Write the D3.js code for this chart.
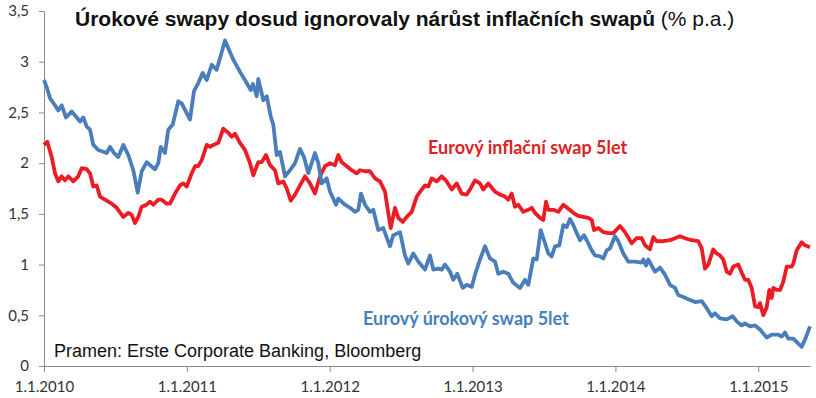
<!DOCTYPE html>
<html>
<head>
<meta charset="utf-8">
<script src="https://cdn.jsdelivr.net/npm/d3@7"></script>
<style>
  body { margin: 0; background: #fff; }
  svg { display: block; }
</style>
</head>
<body>
<div id="chart"></div>
<script>
// t = years since 1.1.2010, v = % p.a.
const inflacni = [
  [0.000, 2.18], [0.023, 2.21], [0.054, 2.06], [0.077, 1.90], [0.100, 1.82], [0.124, 1.87],
  [0.147, 1.83], [0.170, 1.87], [0.205, 1.82], [0.240, 1.87], [0.264, 1.95], [0.299, 1.94],
  [0.322, 1.90], [0.345, 1.77], [0.369, 1.78], [0.392, 1.67], [0.427, 1.64], [0.474, 1.60],
  [0.509, 1.56], [0.555, 1.47], [0.590, 1.51], [0.614, 1.49], [0.637, 1.41], [0.660, 1.47],
  [0.684, 1.57], [0.719, 1.59], [0.742, 1.62], [0.765, 1.59], [0.800, 1.64], [0.824, 1.64],
  [0.859, 1.60], [0.882, 1.60], [0.917, 1.70], [0.952, 1.78], [0.975, 1.80], [0.999, 1.77],
  [1.034, 1.90], [1.057, 1.97], [1.080, 1.97], [1.104, 2.03], [1.139, 2.18], [1.162, 2.16],
  [1.185, 2.18], [1.220, 2.20], [1.255, 2.34], [1.290, 2.30], [1.314, 2.26], [1.337, 2.29],
  [1.372, 2.20], [1.407, 2.13], [1.442, 2.00], [1.465, 1.88], [1.500, 2.01], [1.524, 2.01],
  [1.554, 2.08], [1.582, 1.98], [1.617, 1.93], [1.640, 1.80], [1.675, 1.82], [1.699, 1.75],
  [1.727, 1.63], [1.757, 1.69], [1.792, 1.78], [1.827, 1.87], [1.862, 1.80], [1.897, 1.70],
  [1.932, 1.87], [1.967, 1.97], [2.002, 2.00], [2.037, 1.98], [2.060, 2.08], [2.084, 2.01],
  [2.119, 1.97], [2.154, 1.93], [2.189, 1.90], [2.212, 1.93], [2.247, 1.92], [2.282, 1.92],
  [2.317, 1.85], [2.352, 1.82], [2.387, 1.72], [2.403, 1.57], [2.427, 1.36], [2.457, 1.56],
  [2.480, 1.46], [2.511, 1.42], [2.539, 1.47], [2.574, 1.52], [2.609, 1.67], [2.644, 1.74],
  [2.667, 1.78], [2.690, 1.77], [2.714, 1.85], [2.749, 1.82], [2.784, 1.87], [2.819, 1.82],
  [2.854, 1.74], [2.889, 1.80], [2.924, 1.70], [2.959, 1.69], [2.982, 1.74], [3.017, 1.83],
  [3.052, 1.80], [3.075, 1.74], [3.110, 1.80], [3.157, 1.72], [3.192, 1.69], [3.227, 1.67],
  [3.250, 1.64], [3.274, 1.70], [3.297, 1.57], [3.320, 1.59], [3.355, 1.52], [3.390, 1.54],
  [3.414, 1.56], [3.437, 1.51], [3.472, 1.46], [3.495, 1.44], [3.514, 1.62], [3.530, 1.54],
  [3.565, 1.54], [3.600, 1.52], [3.635, 1.59], [3.670, 1.55], [3.705, 1.51], [3.740, 1.48],
  [3.775, 1.47], [3.810, 1.46], [3.834, 1.44], [3.850, 1.34], [3.880, 1.36], [3.915, 1.32],
  [3.950, 1.31], [3.985, 1.31], [4.032, 1.38], [4.067, 1.32], [4.114, 1.21], [4.149, 1.26],
  [4.184, 1.26], [4.207, 1.19], [4.242, 1.15], [4.265, 1.27], [4.289, 1.23], [4.335, 1.23],
  [4.382, 1.24], [4.417, 1.26], [4.452, 1.28], [4.487, 1.26], [4.534, 1.24], [4.580, 1.23],
  [4.604, 1.16], [4.627, 0.96], [4.650, 1.00], [4.685, 1.15], [4.709, 1.11], [4.732, 1.09],
  [4.755, 1.05], [4.779, 0.93], [4.802, 0.91], [4.825, 0.98], [4.860, 1.00], [4.884, 0.92],
  [4.907, 0.85], [4.930, 0.85], [4.954, 0.77], [4.977, 0.59], [5.000, 0.58], [5.012, 0.62],
  [5.035, 0.50], [5.059, 0.58], [5.077, 0.75], [5.094, 0.67], [5.105, 0.77], [5.129, 0.75],
  [5.152, 0.75], [5.175, 0.83], [5.199, 0.98], [5.234, 0.98], [5.245, 1.01], [5.269, 1.14],
  [5.304, 1.22], [5.327, 1.19], [5.362, 1.17]
]

const urokovy = [
  [0.000, 2.82], [0.019, 2.75], [0.042, 2.64], [0.077, 2.57], [0.100, 2.52], [0.124, 2.57],
  [0.154, 2.45], [0.194, 2.51], [0.229, 2.45], [0.252, 2.41], [0.275, 2.45], [0.299, 2.36],
  [0.322, 2.33], [0.345, 2.18], [0.380, 2.13], [0.439, 2.10], [0.462, 2.16], [0.490, 2.10],
  [0.520, 2.06], [0.555, 2.18], [0.590, 2.08], [0.625, 1.93], [0.656, 1.71], [0.684, 1.92],
  [0.719, 2.01], [0.742, 1.98], [0.777, 1.94], [0.800, 2.00], [0.817, 2.16], [0.847, 2.10],
  [0.870, 2.33], [0.901, 2.38], [0.940, 2.61], [0.964, 2.59], [1.022, 2.43], [1.050, 2.71],
  [1.080, 2.79], [1.111, 2.89], [1.139, 2.82], [1.174, 2.97], [1.209, 2.92], [1.267, 3.21],
  [1.325, 3.02], [1.372, 2.90], [1.419, 2.79], [1.447, 2.72], [1.463, 2.78], [1.489, 2.66],
  [1.500, 2.83], [1.535, 2.62], [1.559, 2.66], [1.587, 2.46], [1.605, 2.38], [1.629, 2.08],
  [1.652, 2.11], [1.687, 1.87], [1.722, 1.93], [1.757, 2.00], [1.792, 2.14], [1.820, 2.06],
  [1.850, 1.90], [1.897, 2.10], [1.920, 2.00], [1.944, 1.80], [1.979, 1.85], [2.002, 1.72],
  [2.044, 1.59], [2.060, 1.65], [2.107, 1.59], [2.142, 1.56], [2.177, 1.52], [2.200, 1.54],
  [2.219, 1.70], [2.247, 1.59], [2.282, 1.52], [2.305, 1.54], [2.340, 1.34], [2.375, 1.36],
  [2.422, 1.18], [2.445, 1.29], [2.492, 1.32], [2.527, 1.09], [2.550, 1.01], [2.585, 1.11],
  [2.620, 1.03], [2.667, 0.95], [2.702, 1.09], [2.725, 0.95], [2.760, 0.96], [2.784, 0.95],
  [2.807, 1.00], [2.842, 0.93], [2.865, 0.85], [2.893, 0.91], [2.931, 0.77], [2.959, 0.80],
  [2.994, 0.78], [3.017, 0.90], [3.052, 1.05], [3.087, 1.18], [3.122, 1.06], [3.157, 1.03],
  [3.180, 0.91], [3.215, 0.93], [3.250, 0.91], [3.285, 0.82], [3.332, 0.77], [3.367, 0.85],
  [3.390, 0.80], [3.425, 1.06], [3.449, 1.05], [3.477, 1.34], [3.507, 1.21], [3.530, 1.11],
  [3.554, 1.08], [3.577, 1.18], [3.607, 1.19], [3.635, 1.39], [3.659, 1.37], [3.682, 1.45],
  [3.705, 1.39], [3.729, 1.31], [3.752, 1.24], [3.780, 1.29], [3.799, 1.24], [3.834, 1.14],
  [3.857, 1.09], [3.892, 1.08], [3.915, 1.06], [3.939, 1.14], [3.962, 1.16], [3.997, 1.28],
  [4.020, 1.23], [4.055, 1.11], [4.090, 1.03], [4.137, 1.03], [4.184, 1.02], [4.195, 1.05],
  [4.214, 0.99], [4.230, 1.05], [4.277, 0.93], [4.312, 0.97], [4.347, 0.90], [4.382, 0.80],
  [4.417, 0.77], [4.440, 0.70], [4.475, 0.68], [4.522, 0.65], [4.557, 0.63], [4.604, 0.64],
  [4.639, 0.57], [4.674, 0.49], [4.697, 0.52], [4.732, 0.47], [4.779, 0.46], [4.821, 0.49],
  [4.849, 0.44], [4.884, 0.40], [4.907, 0.42], [4.942, 0.39], [4.977, 0.40], [5.012, 0.36],
  [5.059, 0.28], [5.094, 0.31], [5.140, 0.31], [5.164, 0.29], [5.187, 0.33], [5.210, 0.27],
  [5.245, 0.27], [5.280, 0.22], [5.304, 0.19], [5.327, 0.26], [5.362, 0.39]
]

const yTicks = [0, 0.5, 1, 1.5, 2, 2.5, 3, 3.5]
const xTicks = [0, 1, 2, 3, 4, 5]
const xTickLabels = ['1.1.2010', '1.1.2011', '1.1.2012', '1.1.2013', '1.1.2014', '1.1.2015']

const W = 816
const H = 398
const margin = { top: 11, right: 6, bottom: 32, left: 44 }

const svg = d3.select('#chart').append('svg')
  .attr('width', W)
  .attr('height', H)

const x = d3.scaleLinear()
  .domain([0, 5.362])
  .range([margin.left, W - margin.right])
const y = d3.scaleLinear()
  .domain([0, 3.5])
  .range([H - margin.bottom, margin.top])

const axisColor = '#8a8a8a'
const labelFont = 'Lato, "Open Sans", sans-serif'
const arial = '"Liberation Sans", Arial, sans-serif'

const yAxis = svg.append('g')
  .attr('transform', `translate(${margin.left},0)`)
  .call(d3.axisLeft(y)
    .tickValues(yTicks)
    .tickSize(5)
    .tickSizeOuter(0)
    .tickPadding(10)
    .tickFormat(d => String(d).replace('.', ',')))
const xAxis = svg.append('g')
  .attr('transform', `translate(0,${H - margin.bottom})`)
  .call(d3.axisBottom(x)
    .tickValues(xTicks)
    .tickSize(6)
    .tickSizeOuter(0)
    .tickPadding(9)
    .tickFormat((d, i) => xTickLabels[i]))

;[yAxis, xAxis].forEach(g => {
  g.select('.domain').attr('stroke', axisColor)
  g.selectAll('.tick line').attr('stroke', axisColor)
  g.selectAll('.tick text')
    .attr('fill', '#333')
    .style('font-family', labelFont)
    .style('font-size', '15px')
})

const line = d3.line()
  .x(d => x(d[0]))
  .y(d => y(d[1]))

svg.append('path')
  .datum(inflacni)
  .attr('fill', 'none')
  .attr('stroke', '#ec1c24')
  .attr('stroke-width', 3.8)
  .attr('stroke-linejoin', 'round')
  .attr('d', line)

svg.append('path')
  .datum(urokovy)
  .attr('fill', 'none')
  .attr('stroke', '#4a7ebb')
  .attr('stroke-width', 3.8)
  .attr('stroke-linejoin', 'round')
  .attr('d', line)

// title
const title = svg.append('text')
  .attr('x', 75)
  .attr('y', 26)
  .style('font-family', arial)
  .style('font-size', '21px')
  .attr('fill', '#111')
title.append('tspan')
  .style('font-weight', 'bold')
  .text('Úrokové swapy dosud ignorovaly nárůst inflačních swapů')
title.append('tspan')
  .text(' (% p.a.)')

// series labels
svg.append('text')
  .attr('x', 428)
  .attr('y', 154)
  .attr('fill', '#dc2227')
  .style('font-family', labelFont)
  .style('font-weight', 'bold')
  .style('font-size', '18px')
  .text('Eurový inflační swap 5let')

svg.append('text')
  .attr('x', 363)
  .attr('y', 325)
  .attr('fill', '#4680bd')
  .style('font-family', labelFont)
  .style('font-weight', 'bold')
  .style('font-size', '18px')
  .text('Eurový úrokový swap 5let')

svg.append('text')
  .attr('x', 54)
  .attr('y', 357)
  .attr('fill', '#111')
  .style('font-family', arial)
  .style('font-size', '18px')
  .text('Pramen: Erste Corporate Banking, Bloomberg')
</script>
</body>
</html>
